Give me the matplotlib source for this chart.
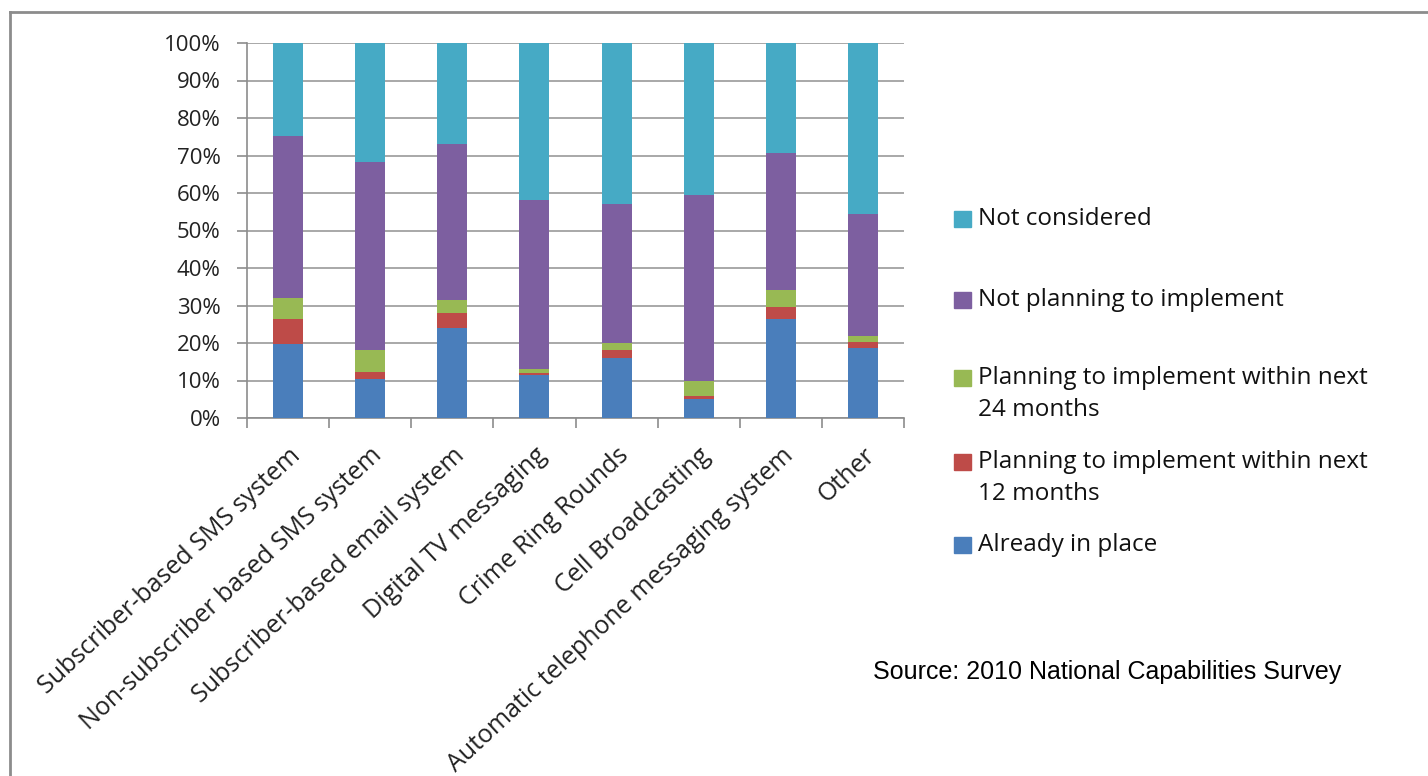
import numpy as np
import matplotlib.pyplot as plt
from matplotlib.patches import Rectangle
from matplotlib.lines import Line2D

# categories and stacked shares (%)
categories = ["Subscriber-based SMS system", "Non-subscriber based SMS system",
              "Subscriber-based email system", "Digital TV messaging",
              "Crime Ring Rounds", "Cell Broadcasting",
              "Automatic telephone messaging system", "Other"]

already_in_place = [19.8, 10.5, 24.0, 11.5, 16.0, 5.1, 26.5, 18.7]
within_12_months = [6.7, 1.8, 4.0, 0.6, 2.2, 0.9, 3.0, 1.6]
within_24_months = [5.5, 5.8, 3.6, 1.1, 1.8, 3.9, 4.7, 1.5]
not_planning = [43.3, 50.1, 41.5, 44.9, 37.0, 49.5, 36.5, 32.7]
not_considered = [24.7, 31.8, 26.9, 41.9, 43.0, 40.6, 29.3, 45.5]

series_names = ["Already in place",
                "Planning to implement within next\n12 months",
                "Planning to implement within next\n24 months",
                "Not planning to implement",
                "Not considered"]
series_values = [already_in_place, within_12_months, within_24_months,
                 not_planning, not_considered]
colors = ["#4a7ebb", "#be4b48", "#98b954", "#7d5fa0", "#46aac5"]

FONT = "Open Sans"
W, H = 1428, 776
fig = plt.figure(figsize=(W / 100, H / 100), dpi=100)
ax = fig.add_axes([247 / W, 1 - 418 / H, (904 - 247) / W, (418 - 43) / H])

x = np.arange(len(categories))
bottom = np.zeros(len(categories))
for vals, col in zip(series_values, colors):
    ax.bar(x, vals, bottom=bottom, width=0.365, color=col, zorder=3)
    bottom += np.array(vals)

ax.set_xlim(-0.5, len(categories) - 0.5)
ax.set_ylim(0, 100)
ax.set_yticks(np.arange(0, 101, 10))
ax.set_yticklabels([f"{v}%" for v in range(0, 101, 10)],
                   fontsize=16, family=FONT, color="#222222")
ax.yaxis.grid(True, color="#9a9a9a", lw=1.2, zorder=0)
ax.tick_params(axis="y", length=7, width=1.2, color="#8c8c8c", pad=12)

# category boundary ticks on x axis
ax.set_xticks(np.arange(-0.5, len(categories), 1.0), minor=False)
ax.set_xticklabels([])
ax.tick_params(axis="x", length=7, width=1.2, color="#8c8c8c")
ax.set_xticks(x, minor=True)
ax.set_xticklabels(categories, minor=True, rotation=43, ha="right",
                   rotation_mode="anchor", fontsize=18, family=FONT,
                   color="#222222")
ax.tick_params(axis="x", which="minor", length=0, pad=18)

for s in ["top", "right"]:
    ax.spines[s].set_visible(False)
for s in ["left", "bottom"]:
    ax.spines[s].set_color("#8c8c8c")
    ax.spines[s].set_linewidth(1.2)

# legend drawn by hand, top to bottom
legend_y = [219, 300, 378, 462, 545]
for name, col, ly in zip(series_names[::-1], colors[::-1], legend_y):
    fig.add_artist(Rectangle((954 / W, 1 - (ly + 8) / H), 17 / W, 16 / H,
                             transform=fig.transFigure, color=col))
    fig.text(978 / W, 1 - (ly - 12) / H, name, fontsize=17.5, family=FONT,
             color="#111111", va="top", ha="left", linespacing=1.45)

fig.text(873 / W, 1 - 672 / H, "Source: 2010 National Capabilities Survey",
         fontsize=18, family="Liberation Sans", va="center", ha="left")

# outer frame
fig.add_artist(Line2D([10 / W, 1], [1 - 12 / H, 1 - 12 / H],
                      transform=fig.transFigure, color="#8c8c8c", lw=2))
fig.add_artist(Line2D([10 / W, 10 / W], [0, 1 - 12 / H],
                      transform=fig.transFigure, color="#8c8c8c", lw=2))

fig.savefig("out.png", dpi=100)
